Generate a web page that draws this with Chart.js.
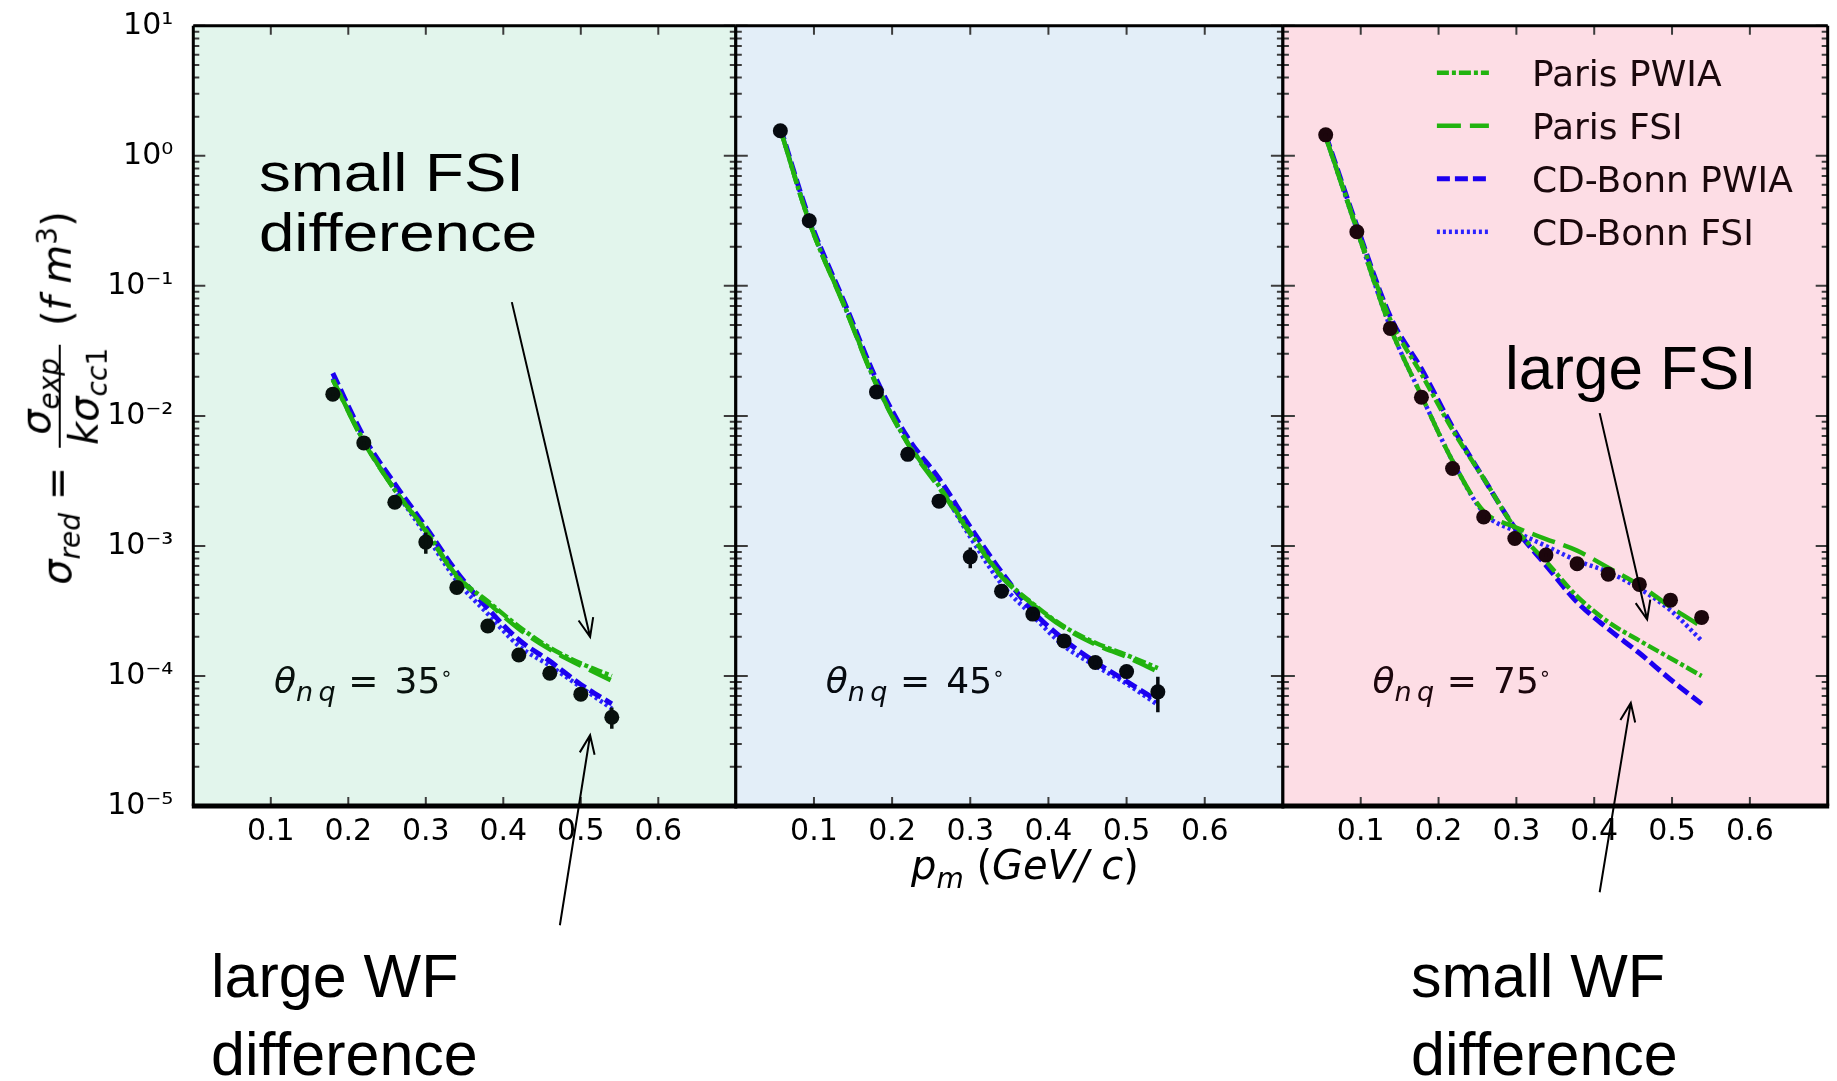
<!DOCTYPE html>
<html>
<head>
<meta charset="utf-8">
<script src="https://cdn.jsdelivr.net/npm/chart.js@4.4.1/dist/chart.umd.min.js"></script>
<style>
html,body{margin:0;padding:0;background:#fff;}
body{width:1837px;height:1081px;position:relative;overflow:hidden;}
canvas{position:absolute;left:0;top:0;pointer-events:none;}
.ann{position:absolute;font-family:'Liberation Sans',Arial,sans-serif;color:#000;white-space:nowrap;z-index:5;}
.math{position:absolute;font-family:'DejaVu Sans',sans-serif;white-space:nowrap;line-height:1;z-index:5;color:#000;}
.math i{font-style:italic;}
.math sub,.math sup{line-height:0;font-size:0.7em;}
.frac{display:inline-flex;flex-direction:column;vertical-align:middle;text-align:center;margin:0 0.15em;}
.frac .num{border-bottom:2px solid #000;padding:0 3px 3px;}
.frac .den{padding:3px 3px 0;}
</style>
</head>
<body>
<canvas id="c1" width="1837" height="1081"></canvas>
<canvas id="c2" width="1837" height="1081"></canvas>
<canvas id="c3" width="1837" height="1081"></canvas>

<div class="ann" id="aSmallFSI" style="left:259px;top:143px;font-size:53px;line-height:60px;transform:scaleX(1.2);transform-origin:0 0;">small FSI<br>difference</div>
<div class="ann" id="aLargeFSI" style="left:1505px;top:329px;font-size:62px;line-height:78px;">large FSI</div>
<div class="ann" id="aLargeWF" style="left:211px;top:937px;font-size:61px;line-height:78px;">large WF<br>difference</div>
<div class="ann" id="aSmallWF" style="left:1411px;top:937px;font-size:61px;line-height:78px;">small WF<br>difference</div>

<div class="math" id="ytitle" style="font-size:40px;"><i>σ</i><sub><i>red</i></sub> = <span class="frac"><span class="num"><i>σ</i><sub><i>exp</i></sub></span><span class="den"><i>kσ</i><sub><i>cc</i>1</sub></span></span> (<i>f m</i><sup>3</sup>)</div>
<div class="math" id="xtitle" style="font-size:40px;"><i>p</i><sub><i>m</i></sub> (<i>GeV/ c</i>)</div>

<script>
// ---------------- data ----------------
const xTickValues = [0.1, 0.2, 0.3, 0.4, 0.5, 0.6];
const yDecades = [1e-5, 1e-4, 1e-3, 1e-2, 1e-1, 1, 10];
const seriesNames = ['Paris PWIA', 'Paris FSI', 'CD-Bonn PWIA', 'CD-Bonn FSI'];
const panelAngles = ['35', '45', '75'];

// theta_nq = 35 deg
const p35_x        = [0.18, 0.22, 0.26, 0.30, 0.34, 0.38, 0.42, 0.46, 0.50, 0.54];
const p35_data     = [0.0147, 0.0062, 0.00217, 0.00107, 4.8e-4, 2.42e-4, 1.45e-4, 1.05e-4, 7.25e-5, 4.82e-5];
const p35_err      = [3e-4, 1.5e-4, 5e-5, 2e-4, 1.5e-5, 8e-6, 5e-6, 4e-6, 3e-6, 9e-6];
const p35_curve_x  = [0.18, 0.22, 0.26, 0.30, 0.34, 0.38, 0.42, 0.46, 0.50, 0.54];
const p35_parisPWIA = [0.019, 0.0064, 0.0027, 0.00132, 5.9e-4, 3.75e-4, 2.4e-4, 1.65e-4, 1.25e-4, 1.0e-4];
const p35_parisFSI  = [0.019, 0.0063, 0.0027, 0.0013, 5.8e-4, 3.65e-4, 2.3e-4, 1.6e-4, 1.2e-4, 9.2e-5];
const p35_bonnPWIA  = [0.0213, 0.0069, 0.0030, 0.0014, 6.3e-4, 3.3e-4, 1.9e-4, 1.3e-4, 8.6e-5, 6.1e-5];
const p35_bonnFSI   = [0.0195, 0.0064, 0.0027, 0.00122, 5.4e-4, 3.0e-4, 1.7e-4, 1.2e-4, 8.2e-5, 5.6e-5];

// theta_nq = 45 deg
const p45_x        = [0.057, 0.094, 0.18, 0.22, 0.26, 0.30, 0.34, 0.38, 0.42, 0.46, 0.50, 0.54];
const p45_data     = [1.56, 0.317, 0.0153, 0.00506, 0.00221, 8.24e-4, 4.49e-4, 2.99e-4, 1.86e-4, 1.27e-4, 1.08e-4, 7.55e-5];
const p45_err      = [0.03, 0.008, 4e-4, 1.2e-4, 6e-5, 1.5e-4, 1.5e-5, 1e-5, 7e-6, 6e-6, 6e-6, 2.3e-5];
const p45_curve_x  = [0.057, 0.094, 0.14, 0.18, 0.22, 0.26, 0.30, 0.34, 0.38, 0.42, 0.46, 0.50, 0.54];
const p45_parisPWIA = [1.6, 0.31, 0.068, 0.0175, 0.0062, 0.0029, 1.27e-3, 5.9e-4, 3.6e-4, 2.4e-4, 1.8e-4, 1.45e-4, 1.15e-4];
const p45_parisFSI  = [1.6, 0.31, 0.067, 0.0172, 0.0061, 0.0028, 1.24e-3, 5.8e-4, 3.55e-4, 2.35e-4, 1.75e-4, 1.4e-4, 1.08e-4];
const p45_bonnPWIA  = [1.65, 0.33, 0.072, 0.019, 0.0068, 0.0033, 1.4e-3, 6.3e-4, 3.15e-4, 1.9e-4, 1.28e-4, 9.1e-5, 6.4e-5];
const p45_bonnFSI   = [1.6, 0.32, 0.068, 0.0175, 0.0062, 0.0029, 1.17e-3, 5.1e-4, 2.9e-4, 1.7e-4, 1.2e-4, 8.7e-5, 6.0e-5];

// theta_nq = 75 deg
const p75_x        = [0.055, 0.095, 0.138, 0.178, 0.218, 0.258, 0.298, 0.338, 0.378, 0.418, 0.458, 0.498, 0.538];
const p75_data     = [1.45, 0.261, 0.0471, 0.0139, 0.00394, 0.00167, 0.00114, 8.5e-4, 7.3e-4, 6.07e-4, 5.06e-4, 3.83e-4, 2.82e-4];
const p75_err      = [0.03, 0.006, 1e-3, 3e-4, 8e-5, 4e-5, 3e-5, 2e-5, 2e-5, 1.5e-5, 1.5e-5, 1.2e-5, 1.2e-5];
const p75_curve_x  = [0.055, 0.095, 0.138, 0.178, 0.218, 0.258, 0.298, 0.338, 0.378, 0.418, 0.458, 0.498, 0.538];
const p75_parisPWIA = [1.4, 0.28, 0.055, 0.021, 0.0078, 0.0033, 0.00138, 7.6e-4, 4.1e-4, 2.6e-4, 1.87e-4, 1.37e-4, 1.0e-4];
const p75_parisFSI  = [1.4, 0.27, 0.048, 0.0143, 0.0045, 0.00185, 0.0014, 1.13e-3, 9.2e-4, 6.8e-4, 5.0e-4, 3.4e-4, 2.4e-4];
const p75_bonnPWIA  = [1.45, 0.29, 0.058, 0.023, 0.0082, 0.0033, 0.00138, 7.1e-4, 3.7e-4, 2.3e-4, 1.5e-4, 9.4e-5, 6.1e-5];
const p75_bonnFSI   = [1.4, 0.27, 0.048, 0.0143, 0.0045, 0.0018, 0.0013, 1.0e-3, 7.7e-4, 6.3e-4, 4.7e-4, 3.2e-4, 1.87e-4];

// annotation arrows, in each panel's data coordinates [x, y] (tail -> tip)
const arrows35 = [ {from: [0.411, 0.075], to: [0.512, 2.0e-4]}, {from: [0.473, 1.21e-6], to: [0.512, 3.5e-5]} ];
const arrows75 = [ {from: [0.407, 0.0105], to: [0.468, 2.72e-4]}, {from: [0.407, 2.17e-6], to: [0.447, 6.2e-5]} ];
const thetaPos = [ [0.104, 7.4e-5], [0.115, 7.4e-5], [0.115, 7.4e-5] ];

// ---------------- layout / style ----------------
const W = 1837, H = 1081;
const PANEL_L = [193.3, 735.8, 1282.9];
const PANEL_R = [735.8, 1282.9, 1827.7];
const PLOT_TOP = 25.8, PLOT_BOTTOM = 806;
const BG = ['#e2f5ec', '#e3eef8', '#fddde5'];
const MARK = ['#08110d', '#060a10', '#1c060c'];
const LINE_STY = [
  {color: '#22b30f', dash: [12, 3, 4, 3], width: 4.5},
  {color: '#22b30f', dash: [24, 9], width: 4.5},
  {color: '#1c00f0', dash: [13, 5], width: 5},
  {color: '#2b22ff', dash: [3, 3], width: 4.5}
];

const supMap = {'-': '\u207B', '0': '\u2070', '1': '\u00B9', '2': '\u00B2', '3': '\u00B3', '4': '\u2074', '5': '\u2075', '6': '\u2076', '7': '\u2077', '8': '\u2078', '9': '\u2079'};
function decadeLabel(v) {
  const e = Math.round(Math.log10(v));
  return '10' + String(e).split('').map(ch => supMap[ch]).join('');
}

function drawArrow(c, x1, y1, x2, y2) {
  const ang = Math.atan2(y2 - y1, x2 - x1), L = 20, h = 22 * Math.PI / 180;
  c.beginPath();
  c.moveTo(x1, y1); c.lineTo(x2, y2);
  c.moveTo(x2 - L * Math.cos(ang - h), y2 - L * Math.sin(ang - h));
  c.lineTo(x2, y2);
  c.lineTo(x2 - L * Math.cos(ang + h), y2 - L * Math.sin(ang + h));
  c.stroke();
}

const panelDeco = {
  id: 'panelDeco',
  beforeDraw(chart, args, o) {
    const a = chart.chartArea, c = chart.ctx;
    c.save(); c.fillStyle = o.bg; c.fillRect(a.left, a.top, a.right - a.left, a.bottom - a.top); c.restore();
  },
  beforeDatasetsDraw(chart, args, o) {
    const a = chart.chartArea, c = chart.ctx, xs = chart.scales.x, ys = chart.scales.y;
    c.save(); c.strokeStyle = '#3c3c3c'; c.lineWidth = 2; c.beginPath();
    for (let e = -5; e <= 1; e++) {
      for (let m = 1; m <= 9; m++) {
        const v = m * Math.pow(10, e);
        if (v > 10.0001) break;
        const py = ys.getPixelForValue(v);
        const len = m === 1 ? 12 : 6;
        c.moveTo(a.left, py); c.lineTo(a.left + len, py);
        c.moveTo(a.right, py); c.lineTo(a.right - len, py);
      }
    }
    for (const v of xTickValues) {
      const px = xs.getPixelForValue(v);
      c.moveTo(px, a.bottom); c.lineTo(px, a.bottom - 9);
      c.moveTo(px, a.top); c.lineTo(px, a.top + 9);
    }
    c.stroke(); c.restore();
  },
  afterDatasetsDraw(chart, args, o) {
    const c = chart.ctx, xs = chart.scales.x, ys = chart.scales.y;
    const pts = chart.data.datasets[0].data;
    c.save(); c.strokeStyle = o.mark; c.lineWidth = 3.5; c.beginPath();
    pts.forEach((p, i) => {
      const e = o.err[i];
      const px = xs.getPixelForValue(p.x);
      c.moveTo(px, ys.getPixelForValue(p.y + e));
      c.lineTo(px, ys.getPixelForValue(Math.max(p.y - e, 1e-7)));
    });
    c.stroke(); c.restore();
  },
  afterDraw(chart, args, o) {
    const a = chart.chartArea, c = chart.ctx, xs = chart.scales.x, ys = chart.scales.y;
    c.save();
    c.strokeStyle = '#000';
    c.lineWidth = 3;
    c.beginPath();
    c.moveTo(a.left, a.top); c.lineTo(a.right, a.top);
    c.moveTo(a.left, a.top); c.lineTo(a.left, a.bottom);
    c.moveTo(a.right, a.top); c.lineTo(a.right, a.bottom);
    c.stroke();
    c.lineWidth = 5;
    c.beginPath(); c.moveTo(a.left - 1.5, a.bottom); c.lineTo(a.right + 1.5, a.bottom); c.stroke();
    // legend
    if (o.legend) {
      for (let i = 1; i <= 4; i++) {
        const ds = chart.data.datasets[i];
        const y = a.top + 47 + (i - 1) * 53;
        c.setLineDash(ds.borderDash || []);
        c.strokeStyle = ds.borderColor; c.lineWidth = ds.borderWidth;
        c.beginPath(); c.moveTo(a.left + 154, y); c.lineTo(a.left + 206, y); c.stroke();
        c.setLineDash([]);
        c.fillStyle = '#1a080c';
        c.font = '36px "DejaVu Sans"';
        c.textBaseline = 'alphabetic'; c.textAlign = 'left';
        c.fillText(ds.label, a.left + 249, y + 13);
      }
    }
    // arrows
    c.setLineDash([]); c.strokeStyle = '#000'; c.lineWidth = 2;
    (o.arrows || []).forEach(ar => {
      drawArrow(c, xs.getPixelForValue(ar.from[0]), ys.getPixelForValue(ar.from[1]),
                   xs.getPixelForValue(ar.to[0]), ys.getPixelForValue(ar.to[1]));
    });
    c.restore();
  }
};

function pts(xs, ys) { return xs.map((x, i) => ({x: x, y: ys[i]})); }

function makePanel(idx, canvasId, px, pdata, perr, cx, curves, arrows) {
  const datasets = [{
    label: 'data', data: pts(px, pdata), showLine: false,
    pointRadius: 7.5, pointHoverRadius: 7.5, pointBackgroundColor: MARK[idx], pointBorderWidth: 0
  }];
  curves.forEach((cv, k) => {
    datasets.push({
      label: seriesNames[k], data: pts(cx, cv),
      borderColor: LINE_STY[k].color, borderDash: LINE_STY[k].dash, borderWidth: LINE_STY[k].width,
      pointRadius: 0, fill: false, cubicInterpolationMode: 'monotone'
    });
  });
  return new Chart(document.getElementById(canvasId), {
    type: 'line',
    data: {datasets},
    plugins: [panelDeco],
    options: {
      responsive: false, animation: false, devicePixelRatio: 1,
      events: [],
      layout: {padding: {left: idx === 0 ? 0 : PANEL_L[idx], right: W - PANEL_R[idx], top: PLOT_TOP, bottom: 0}},
      plugins: {
        legend: {display: false}, tooltip: {enabled: false},
        panelDeco: {bg: BG[idx], mark: MARK[idx], err: perr, legend: idx === 2, arrows: arrows}
      },
      scales: {
        x: {
          type: 'linear', min: 0, max: 0.7,
          grid: {display: false, drawTicks: false}, border: {display: false},
          afterBuildTicks: s => { s.ticks = xTickValues.map(v => ({value: v})); },
          afterFit: s => { s.height = H - PLOT_BOTTOM; s.paddingLeft = 0; s.paddingRight = 0; },
          ticks: {font: {family: 'DejaVu Sans', size: 30}, color: '#000', padding: 8, maxRotation: 0, autoSkip: false,
                  callback: v => Number(v).toFixed(1)}
        },
        y: {
          type: 'logarithmic', min: 1e-5, max: 10, display: idx === 0,
          grid: {display: false, drawTicks: false}, border: {display: false},
          afterBuildTicks: s => { s.ticks = yDecades.map(v => ({value: v})); },
          afterFit: s => { s.width = idx === 0 ? PANEL_L[0] : 0; s.paddingTop = 0; s.paddingBottom = 0; },
          ticks: {font: {family: 'DejaVu Sans', size: 30}, color: '#000', padding: 20, autoSkip: false,
                  callback: v => decadeLabel(v)}
        }
      }
    }
  });
}

const charts = [
  makePanel(0, 'c1', p35_x, p35_data, p35_err, p35_curve_x, [p35_parisPWIA, p35_parisFSI, p35_bonnPWIA, p35_bonnFSI], arrows35),
  makePanel(1, 'c2', p45_x, p45_data, p45_err, p45_curve_x, [p45_parisPWIA, p45_parisFSI, p45_bonnPWIA, p45_bonnFSI], []),
  makePanel(2, 'c3', p75_x, p75_data, p75_err, p75_curve_x, [p75_parisPWIA, p75_parisFSI, p75_bonnPWIA, p75_bonnFSI], arrows75)
];

// theta labels positioned through each panel's scales
charts.forEach((ch, i) => {
  const d = document.createElement('div');
  d.className = 'math';
  const fs = 36;
  d.style.fontSize = fs + 'px';
  d.style.color = MARK[i];
  d.innerHTML = '<i>θ</i><sub style="font-size:0.75em"><i>n\u2009q</i></sub><span style="margin:0 0.45em 0 0.35em">=</span>' + panelAngles[i] + '<sup style="font-size:0.55em">\u2218</sup>';
  const x = ch.scales.x.getPixelForValue(thetaPos[i][0]);
  const yb = ch.scales.y.getPixelForValue(thetaPos[i][1]);
  d.style.left = x + 'px';
  d.style.top = (yb - 0.846 * fs) + 'px';
  document.body.appendChild(d);
});

// axis titles
(function () {
  const yt = document.getElementById('ytitle');
  const w = yt.offsetWidth, h = yt.offsetHeight;
  yt.style.left = (60 - w / 2) + 'px';
  yt.style.top = (398 - h / 2) + 'px';
  yt.style.transform = 'rotate(-90deg)';
  yt.style.transformOrigin = '50% 50%';
  const xt = document.getElementById('xtitle');
  xt.style.left = (1025 - xt.offsetWidth / 2) + 'px';
  xt.style.top = (879 - 0.846 * 40) + 'px';
})();
</script>
</body>
</html>
